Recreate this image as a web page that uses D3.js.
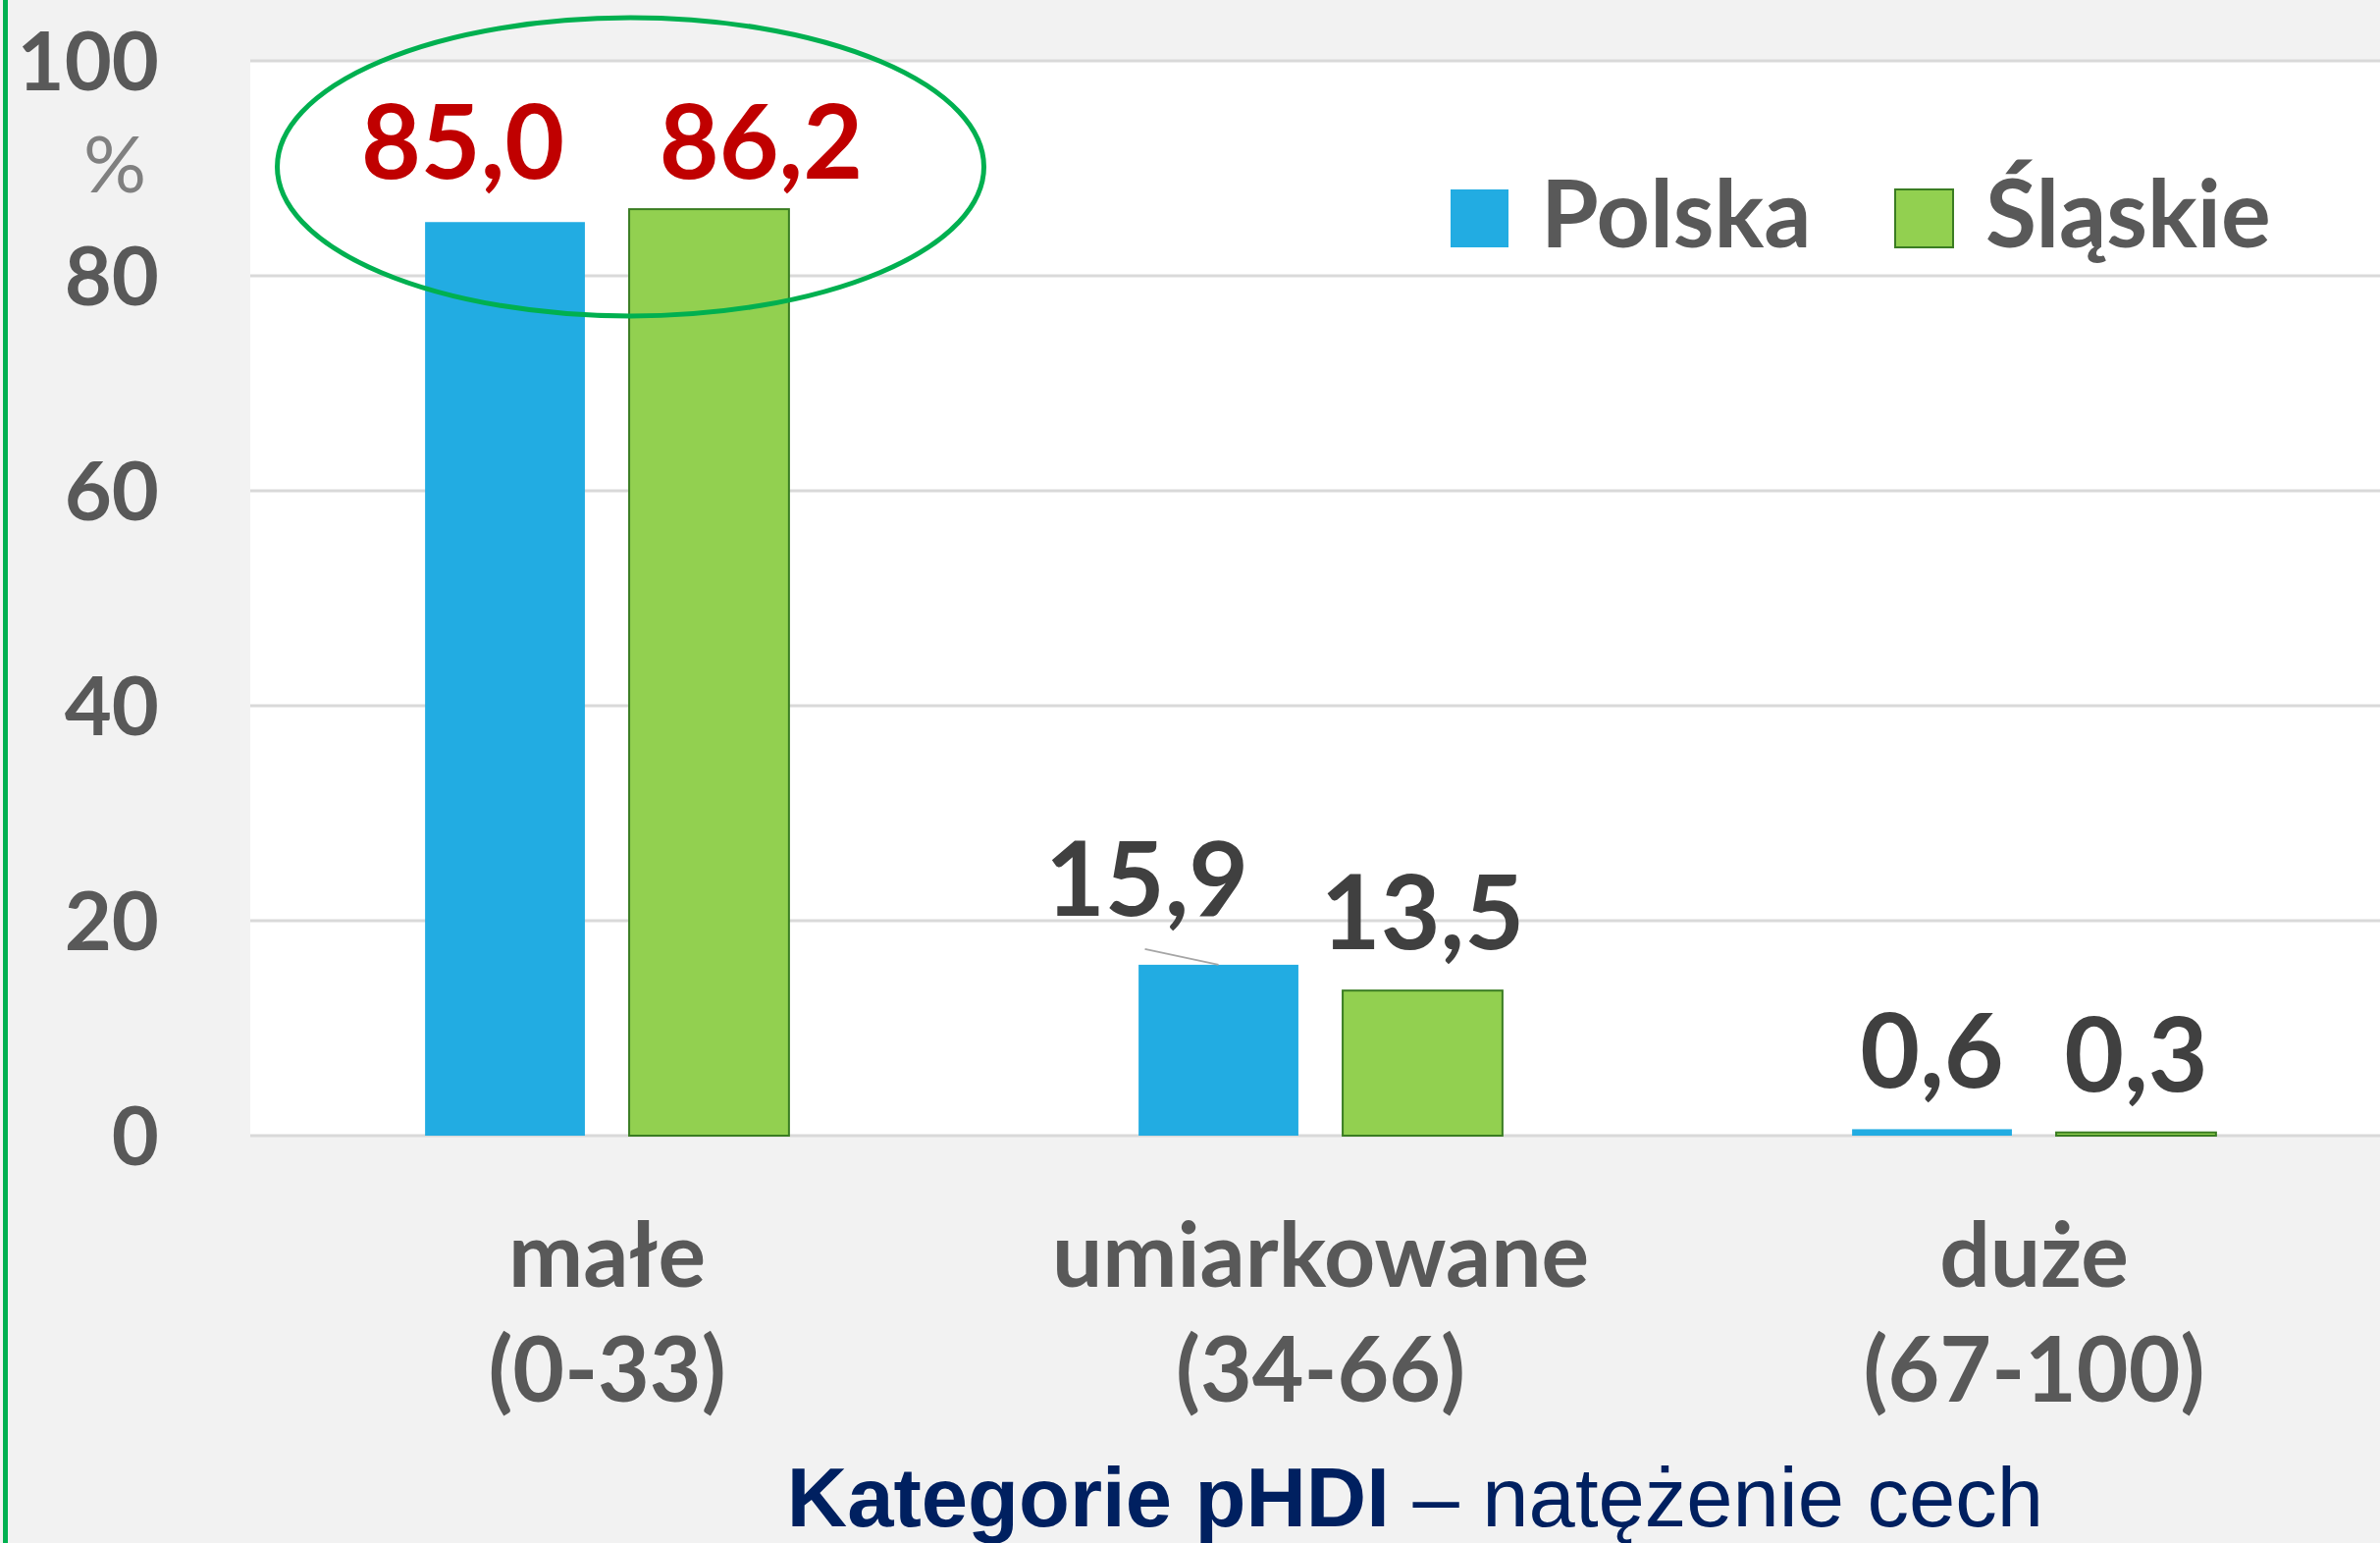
<!DOCTYPE html>
<html>
<head>
<meta charset="utf-8">
<script src="https://cdn.jsdelivr.net/npm/d3@7"></script>
<style>
  body { margin: 0; background: #f2f2f2; }
  svg { display: block; }
</style>
</head>
<body>
<div id="chart"></div>
<script>
const categories = ["małe", "umiarkowane", "duże"];
const ranges = ["(0-33)", "(34-66)", "(67-100)"];
const seriesNames = ["Polska", "Śląskie"];
const polska = [85.0, 15.9, 0.6];
const slaskie = [86.2, 13.5, 0.3];
const yTicks = [0, 20, 40, 60, 80, 100];

const width = 2425;
const height = 1572;
const plot = { left: 255, right: 2425, top: 62, bottom: 1157 };

const colours = { "Polska": "#22ace2", "Śląskie": "#92d050" };
const numFont = "Lato, 'Open Sans', sans-serif";

const svg = d3.select("#chart")
              .append("svg")
              .attr("width", width)
              .attr("height", height);

svg.append("rect")
   .attr("width", width).attr("height", height)
   .attr("fill", "#f2f2f2");

// left green rule
svg.append("rect")
   .attr("x", 3).attr("y", 0)
   .attr("width", 5).attr("height", height)
   .attr("fill", "#00b050");

// the category bands run a little past the visible right edge
const x0 = d3.scaleBand()
             .domain(categories)
             .range([plot.left, plot.left + 2181])
             .paddingInner(0.49)
             .paddingOuter(0.245);

const x1 = d3.scaleBand()
             .domain(seriesNames)
             .range([0, x0.bandwidth()])
             .paddingInner(0.217);

const y = d3.scaleLinear()
            .domain([0, 100])
            .range([plot.bottom, plot.top]);

svg.append("rect")
   .attr("x", plot.left).attr("y", plot.top)
   .attr("width", plot.right - plot.left)
   .attr("height", plot.bottom - plot.top)
   .attr("fill", "#ffffff");

// gridlines
svg.append("g")
   .selectAll("line")
   .data(yTicks)
   .enter()
   .append("line")
   .attr("x1", plot.left)
   .attr("x2", plot.right)
   .attr("y1", d => y(d))
   .attr("y2", d => y(d))
   .attr("stroke", "#d9d9d9")
   .attr("stroke-width", 3);

// y labels
svg.append("g")
   .selectAll("text")
   .data(yTicks)
   .enter()
   .append("text")
   .attr("x", 162)
   .attr("y", d => y(d) + 30)
   .attr("text-anchor", "end")
   .attr("font-family", numFont)
   .attr("font-weight", "bold")
   .attr("font-size", 83)
   .attr("fill", "#595959")
   .text(d => d);

svg.append("text")
   .attr("x", 117)
   .attr("y", 196)
   .attr("text-anchor", "middle")
   .attr("font-family", numFont)
   .attr("font-size", 80)
   .attr("fill", "#808080")
   .text("%");

const rows = categories.map((c, i) => ({
  category: c,
  values: [
    { series: "Polska", value: polska[i], idx: i },
    { series: "Śląskie", value: slaskie[i], idx: i }
  ]
}));

const groups = svg.append("g")
                  .selectAll("g")
                  .data(rows)
                  .enter()
                  .append("g")
                  .attr("transform", d => `translate(${x0(d.category)},0)`);

groups.selectAll("rect")
      .data(d => d.values)
      .enter()
      .append("rect")
      .attr("x", d => x1(d.series))
      .attr("y", d => y(d.value))
      .attr("width", x1.bandwidth())
      .attr("height", d => y(0) - y(d.value))
      .attr("fill", d => colours[d.series])
      .attr("stroke", d => d.series === "Śląskie" ? "#3a7d22" : "none")
      .attr("stroke-width", 2);

// hand-placed label nudges, like the original
function nudge(d){
  if(d.idx === 0 && d.series === "Polska") return [-43, -2];
  if(d.idx === 0 && d.series === "Śląskie") return [53, 11];
  if(d.idx === 1 && d.series === "Polska") return [-73, -8];
  return [0, 0];
}
const fmt = v => d3.format(".1f")(v).replace(".", ",");

groups.selectAll("text.val")
      .data(d => d.values)
      .enter()
      .append("text")
      .attr("class", "val")
      .attr("x", d => x1(d.series) + x1.bandwidth() / 2 + nudge(d)[0])
      .attr("y", d => y(d.value) - 42 + nudge(d)[1])
      .attr("text-anchor", "middle")
      .attr("font-family", numFont)
      .attr("font-weight", "bold")
      .attr("font-size", 105)
      .attr("fill", d => d.idx === 0 ? "#c00000" : "#404040")
      .text(d => fmt(d.value));

// leader line for the moved label
const moved = rows[1].values[0];
const mx = x0(rows[1].category) + x1(moved.series) + x1.bandwidth() / 2;
svg.append("line")
   .attr("x1", mx - 75)
   .attr("y1", y(moved.value) - 16)
   .attr("x2", mx)
   .attr("y2", y(moved.value))
   .attr("stroke", "#a6a6a6")
   .attr("stroke-width", 2);

// category labels
const cat = svg.append("g")
               .selectAll("text")
               .data(categories)
               .enter()
               .append("text")
               .attr("text-anchor", "middle")
               .attr("font-family", numFont)
               .attr("font-weight", "bold")
               .attr("font-size", 91)
               .attr("fill", "#595959");
cat.append("tspan")
   .attr("x", d => x0(d) + x0.bandwidth() / 2)
   .attr("y", 1311)
   .text(d => d);
cat.append("tspan")
   .attr("x", d => x0(d) + x0.bandwidth() / 2)
   .attr("y", 1428)
   .text((d, i) => ranges[i]);

// axis title
const title = svg.append("text")
                 .attr("x", 1442)
                 .attr("y", 1555)
                 .attr("text-anchor", "middle")
                 .attr("font-family", "'Liberation Sans', Arial, sans-serif")
                 .attr("font-size", 85)
                 .attr("fill", "#002060");
title.append("tspan").attr("font-weight", "bold").text("Kategorie pHDI");
title.append("tspan").text(" – natężenie cech");

// highlight ellipse round the first group
svg.append("ellipse")
   .attr("cx", x0(categories[0]) + x0.bandwidth() / 2 + 24)
   .attr("cy", 170)
   .attr("rx", 360)
   .attr("ry", 152)
   .attr("fill", "none")
   .attr("stroke", "#00b050")
   .attr("stroke-width", 5);

// legend
const legendX = [1478, 1931];
const legend = svg.append("g")
                  .selectAll("g")
                  .data(seriesNames)
                  .enter()
                  .append("g")
                  .attr("transform", (d, i) => `translate(${legendX[i]},193)`);
legend.append("rect")
      .attr("width", 59)
      .attr("height", 59)
      .attr("fill", d => colours[d])
      .attr("stroke", d => d === "Śląskie" ? "#3a7d22" : "none")
      .attr("stroke-width", 2);
legend.append("text")
      .attr("x", 92)
      .attr("y", 59)
      .attr("font-family", numFont)
      .attr("font-weight", "bold")
      .attr("font-size", 95)
      .attr("fill", "#595959")
      .text(d => d);
</script>
</body>
</html>
